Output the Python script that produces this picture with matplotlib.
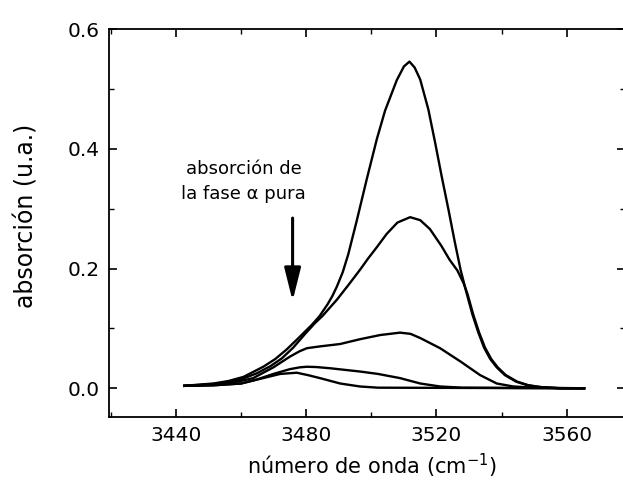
import matplotlib
matplotlib.use('Agg')
import matplotlib.pyplot as plt
from matplotlib.ticker import MultipleLocator

# spectra (wavenumber cm-1, absorbance)
x1 = [3442.2, 3451.5, 3456.0, 3460.7, 3466.8, 3470.5, 3474.0, 3478.0, 3481.7, 3484.0,
      3486.5, 3488.0, 3489.4, 3491.2, 3492.9, 3495.5, 3498.6, 3501.7, 3504.2, 3507.8,
      3510.0, 3511.7, 3513.3, 3515.0, 3517.5, 3519.6, 3521.6, 3523.7, 3525.6, 3527.4,
      3529.2, 3531.0, 3532.8, 3534.6, 3536.5, 3538.5, 3541.0, 3544.5, 3548.0, 3552.0,
      3558.0, 3565.7]
y1 = [0.004, 0.008, 0.012, 0.019, 0.036, 0.049, 0.065, 0.086, 0.106, 0.120,
      0.140, 0.154, 0.170, 0.194, 0.224, 0.280, 0.350, 0.417, 0.464, 0.515,
      0.538, 0.546, 0.536, 0.516, 0.466, 0.410, 0.354, 0.298, 0.245, 0.198,
      0.160, 0.124, 0.094, 0.068, 0.049, 0.035, 0.022, 0.011, 0.005, 0.002,
      0.0, 0.0]

x2 = [3442.2, 3451.5, 3460.0, 3464.8, 3469.0, 3472.5, 3476.0, 3479.5, 3482.5, 3485.0,
      3489.4, 3493.0, 3496.5, 3499.0, 3501.7, 3504.7, 3508.0, 3511.9, 3515.0, 3518.0,
      3521.5, 3524.0, 3526.4, 3528.3, 3529.5, 3531.3, 3533.1, 3534.9, 3536.8, 3538.8,
      3541.3, 3544.8, 3548.3, 3552.0, 3558.0, 3565.7]
y2 = [0.004, 0.007, 0.015, 0.025, 0.037, 0.050, 0.068, 0.090, 0.108, 0.121,
      0.148, 0.173, 0.198, 0.217, 0.236, 0.258, 0.277, 0.286, 0.281, 0.266,
      0.238, 0.215, 0.197, 0.176, 0.158, 0.123, 0.093, 0.068, 0.049, 0.035,
      0.022, 0.011, 0.005, 0.002, 0.0, 0.0]

x3 = [3442.2, 3451.5, 3458.0, 3463.7, 3469.9, 3475.0, 3478.0, 3480.2, 3484.2, 3490.4,
      3496.5, 3502.7, 3508.8, 3512.0, 3515.0, 3521.1, 3527.3, 3533.4, 3538.5, 3543.6,
      3550.0, 3565.7]
y3 = [0.004, 0.006, 0.010, 0.017, 0.035, 0.053, 0.062, 0.067, 0.070, 0.074,
      0.082, 0.089, 0.093, 0.091, 0.084, 0.067, 0.045, 0.022, 0.008, 0.003,
      0.001, 0.0]

x4 = [3442.2, 3451.5, 3460.0, 3465.0, 3469.9, 3475.0, 3478.0, 3480.2, 3483.0, 3487.3,
      3496.5, 3502.0, 3508.8, 3515.0, 3521.1, 3528.0, 3565.7]
y4 = [0.004, 0.005, 0.008, 0.015, 0.024, 0.032, 0.035, 0.036, 0.0355, 0.0335,
      0.028, 0.024, 0.017, 0.008, 0.003, 0.001, 0.0]

x5 = [3442.2, 3451.5, 3460.0, 3466.0, 3472.0, 3477.1, 3480.5, 3484.2, 3490.4, 3496.5,
      3502.0, 3565.7]
y5 = [0.004, 0.005, 0.008, 0.016, 0.024, 0.026, 0.022, 0.017, 0.008, 0.003,
      0.001, 0.0]

xticks = [3440, 3480, 3520, 3560]
yticks = [0.0, 0.2, 0.4, 0.6]

plt.rcParams['font.family'] = ['DejaVu Sans']

fig = plt.figure(figsize=(6.23, 4.92), dpi=100)
ax = fig.add_axes([109.3 / 623, 75.3 / 492, (625 - 109.3) / 623, (416.7 - 29.3) / 492])

for xs, ys in [(x1, y1), (x2, y2), (x3, y3), (x4, y4), (x5, y5)]:
    ax.plot(xs, ys, color='black', lw=1.7, solid_joinstyle='round', solid_capstyle='butt')

ax.set_xlim(3419.5, 3577.9)
ax.set_ylim(-0.0475, 0.6)
ax.set_xticks(xticks)
ax.set_yticks(yticks)
ax.set_yticklabels(['%.1f' % v for v in yticks])
ax.xaxis.set_minor_locator(MultipleLocator(20))
ax.yaxis.set_minor_locator(MultipleLocator(0.1))
ax.tick_params(which='both', direction='in', top=True, right=True, labelsize=14.5)
ax.tick_params(which='major', length=6, width=1.2, pad=7)
ax.tick_params(which='minor', length=3.5, width=1.0)
for s in ax.spines.values():
    s.set_linewidth(1.3)

fig.text(372 / 623, 1 - 466 / 492, 'número de onda (cm$^{-1}$)', fontsize=15,
         ha='center', va='center')
fig.text(27 / 623, 1 - 216 / 492, 'absorción (u.a.)', fontsize=17,
         rotation=90, ha='center', va='center')

ax.text(3460.7, 0.3665, 'absorción de', ha='center', va='center', fontsize=13)
ax.text(3460.7, 0.325, 'la fase α pura', ha='center', va='center', fontsize=13)
ax.annotate('', xy=(3475.8, 0.146), xytext=(3475.8, 0.2845),
            arrowprops=dict(arrowstyle='-|>,head_length=2.0,head_width=0.5',
                            color='black', lw=2.2, shrinkA=0, shrinkB=0,
                            mutation_scale=10))

fig.savefig('out.png', dpi=100)
